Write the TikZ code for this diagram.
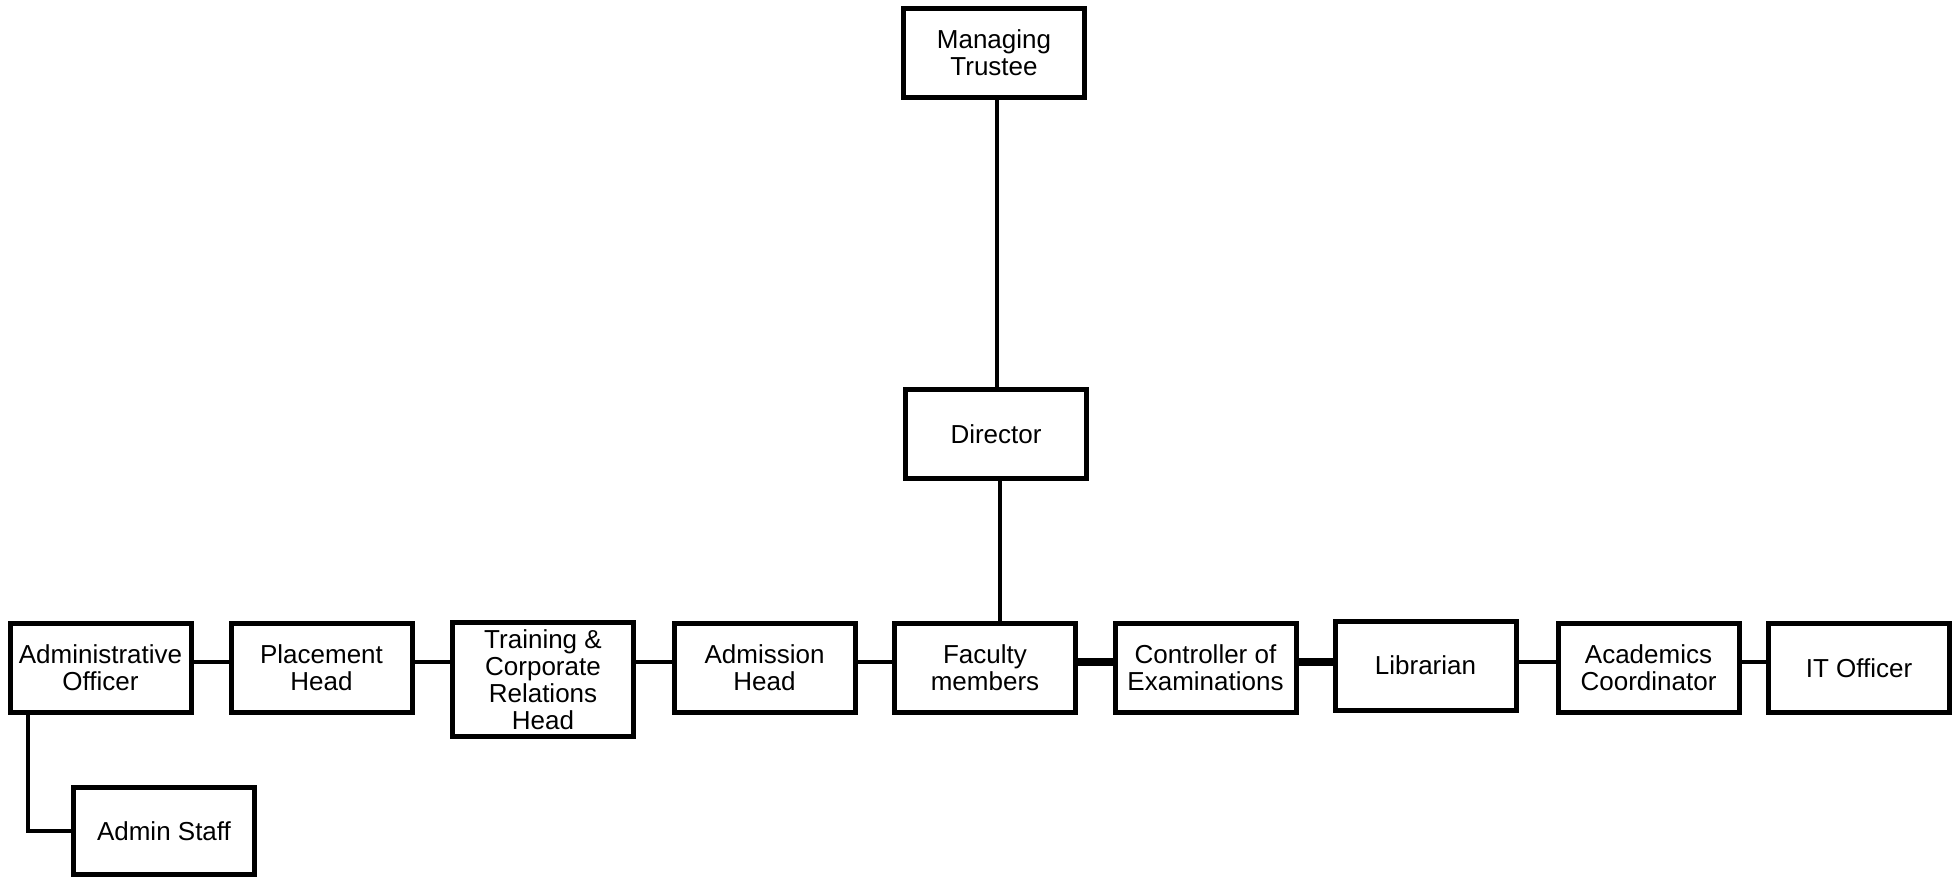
\documentclass[tikz,border=0pt]{standalone}
\usepackage{fontspec}
\setmainfont{Liberation Sans}
\begin{document}
\begin{tikzpicture}[x=1pt,y=-1pt,
  boxnode/.style={draw,line width=5pt,minimum width=181pt,minimum height=89pt,inner sep=2pt,align=center,font=\fontsize{26}{27}\selectfont},
  conn/.style={line width=4.5pt},
  thickconn/.style={line width=7.5pt}]
\useasboundingbox (0,0) rectangle (1956,879);
\node[boxnode] (mt) at (994,53) {Managing\\Trustee};
\node[boxnode] (dir) at (996,434) {Director};
\node[boxnode] (ao) at (100.5,668) {Administrative\\Officer};
\node[boxnode] (pl) at (321.5,668) {Placement\\Head};
\node[boxnode,minimum height=114pt] (tr) at (543,679.5) {Training \&\\Corporate\\Relations\\Head};
\node[boxnode] (ad) at (764.5,668) {Admission\\Head};
\node[boxnode] (fac) at (985,668) {Faculty\\members};
\node[boxnode] (coe) at (1205.5,668) {Controller of\\Examinations};
\node[boxnode] (lib) at (1425.5,665.5) {Librarian};
\node[boxnode] (acd) at (1648.5,668) {Academics\\Coordinator};
\node[boxnode] (it) at (1859,668) {IT Officer};
\node[boxnode,minimum height=87pt] (as) at (164,831) {Admin Staff};
\coordinate (hl) at (0,662);
\draw[conn] ([xshift=3]mt.south) -- ([xshift=1]dir.north);
\draw[conn] ([xshift=4]dir.south) -- ([xshift=4]dir.south |- fac.north);
\draw[conn] (ao.east |- hl) -- (pl.west |- hl);
\draw[conn] (pl.east |- hl) -- (tr.west |- hl);
\draw[conn] (tr.east |- hl) -- (ad.west |- hl);
\draw[conn] (ad.east |- hl) -- (fac.west |- hl);
\draw[thickconn] (fac.east |- hl) -- (coe.west |- hl);
\draw[thickconn] (coe.east |- hl) -- (lib.west |- hl);
\draw[conn] (lib.east |- hl) -- (acd.west |- hl);
\draw[line width=3.5pt] (acd.east |- hl) -- (it.west |- hl);
\draw[conn] ([xshift=-72.5]ao.south) |- (as.west);
\end{tikzpicture}
\end{document}
